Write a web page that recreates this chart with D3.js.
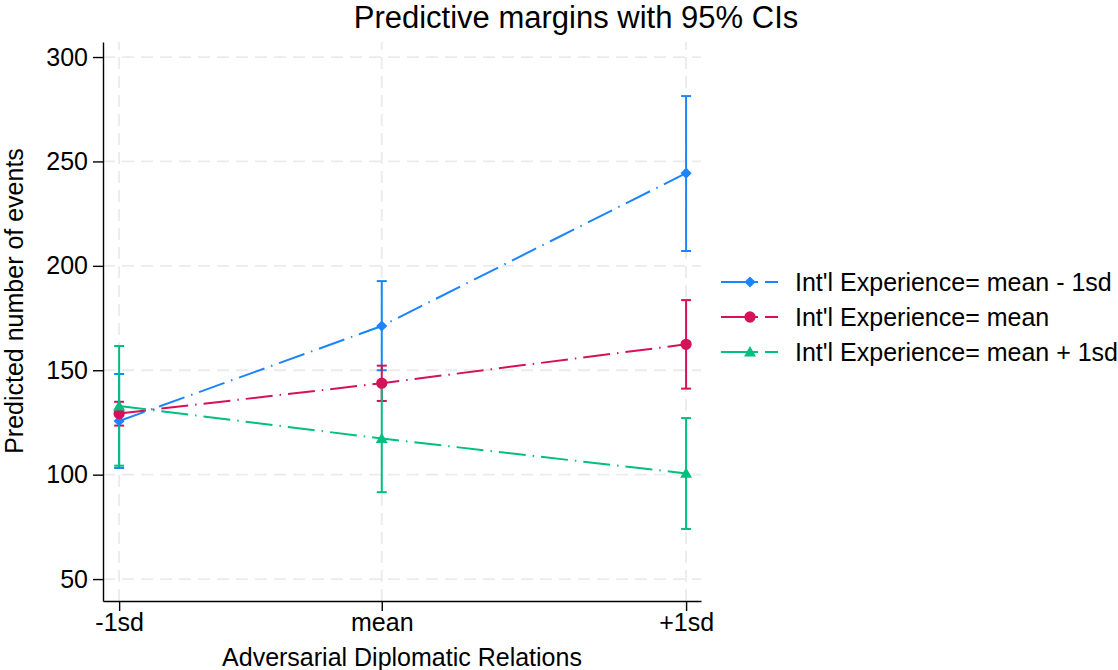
<!DOCTYPE html>
<html>
<head>
<meta charset="utf-8">
<script src="https://cdn.jsdelivr.net/npm/d3@7"></script>
<style>
  body { margin: 0; background: #fff; }
  svg { display: block; font-family: "Liberation Sans", Arial, Helvetica, sans-serif; }
</style>
</head>
<body>
<div id="chart"></div>
<script>
// x positions of the three evaluation points (-1sd is truncated at 0)
const xValues = [0, 0.863, 1.863];
const xLabels = ["-1sd", "mean", "+1sd"];
const yTicks = [50, 100, 150, 200, 250, 300];

const seriesNames = [
  "Int'l Experience= mean - 1sd",
  "Int'l Experience= mean",
  "Int'l Experience= mean + 1sd"
];

// predicted margins and 95% CI bounds, one array per series
const lowExpMargin = [125.7, 171.2, 244.4];
const lowExpLower = [103.2, 150.0, 207.1];
const lowExpUpper = [148.2, 192.7, 281.3];

const meanExpMargin = [129.3, 143.8, 162.4];
const meanExpLower = [123.5, 135.3, 141.2];
const meanExpUpper = [134.9, 152.2, 183.6];

const highExpMargin = [132.9, 117.3, 100.6];
const highExpLower = [104.3, 91.6, 74.0];
const highExpUpper = [161.6, 143.0, 127.1];

const W = 1118, H = 670;
const colors = ["#1a85ff", "#d41159", "#00bf7f"];

const series = [
  { name: seriesNames[0], m: lowExpMargin, lo: lowExpLower, hi: lowExpUpper, symbol: "diamond" },
  { name: seriesNames[1], m: meanExpMargin, lo: meanExpLower, hi: meanExpUpper, symbol: "circle" },
  { name: seriesNames[2], m: highExpMargin, lo: highExpLower, hi: highExpUpper, symbol: "triangle" }
];

const svg = d3.select("#chart").append("svg")
  .attr("width", W).attr("height", H);

const x = d3.scaleLinear().domain([-0.053, 1.912]).range([103, 701]);
const y = d3.scaleLinear().domain([39.5, 307.2]).range([601, 42]);

// grid
const grid = svg.append("g").attr("stroke", "#ebebeb").attr("stroke-width", 1.8)
  .attr("stroke-dasharray", "12 7");
grid.selectAll(".hg").data(yTicks).join("line")
  .attr("x1", x.range()[0]).attr("x2", x.range()[1])
  .attr("y1", d => y(d)).attr("y2", d => y(d));
grid.selectAll(".vg").data(xValues).join("line")
  .attr("x1", d => x(d)).attr("x2", d => x(d))
  .attr("y1", y.range()[0]).attr("y2", y.range()[1]);

// axes
const yAxis = svg.append("g")
  .attr("transform", `translate(${x.range()[0]},0)`)
  .call(d3.axisLeft(y).tickValues(yTicks).tickSize(10).tickSizeOuter(0).tickPadding(5));
const xAxis = svg.append("g")
  .attr("transform", `translate(0,${y.range()[0]})`)
  .call(d3.axisBottom(x).tickValues(xValues).tickFormat((d, i) => xLabels[i])
    .tickSize(10).tickSizeOuter(0).tickPadding(2));
[yAxis, xAxis].forEach(a => {
  a.selectAll("path, line").attr("stroke", "#000").attr("stroke-width", 1.4);
  a.selectAll("text").attr("fill", "#000").style("font-size", "25px")
    .style("font-family", "'Liberation Sans', Arial, sans-serif");
});

// symbols
function symbolPath(kind) {
  if (kind === "circle") return d3.symbol(d3.symbolCircle, 100)();
  if (kind === "triangle") return d3.symbol(d3.symbolTriangle, 62)();
  return d3.symbol(d3.symbolSquare, 62)();
}
function symbolTransform(kind, px, py) {
  if (kind === "diamond") return `translate(${px},${py}) rotate(45)`;
  if (kind === "triangle") return `translate(${px},${py + 1})`;
  return `translate(${px},${py})`;
}

// confidence intervals
series.forEach((s, k) => {
  const g = svg.append("g").attr("stroke", colors[k]).attr("stroke-width", 2);
  xValues.forEach((xv, i) => {
    g.append("line").attr("x1", x(xv)).attr("x2", x(xv))
      .attr("y1", y(s.lo[i])).attr("y2", y(s.hi[i]));
    [s.lo[i], s.hi[i]].forEach(v => {
      g.append("line").attr("x1", x(xv) - 5).attr("x2", x(xv) + 5)
        .attr("y1", y(v)).attr("y2", y(v));
    });
  });
});

// connected lines with markers
const line = d3.line().x((d, i) => x(xValues[i])).y(d => y(d));
series.forEach((s, k) => {
  svg.append("path").datum(s.m)
    .attr("d", line)
    .attr("fill", "none")
    .attr("stroke", colors[k])
    .attr("stroke-width", 2)
    .attr("stroke-dasharray", "27 7 1.5 7");
  svg.append("g").selectAll("path").data(s.m).join("path")
    .attr("d", symbolPath(s.symbol))
    .attr("transform", (d, i) => symbolTransform(s.symbol, x(xValues[i]), y(d)))
    .attr("fill", colors[k]);
});

// legend
const legend = svg.append("g").attr("transform", "translate(721,282)");
series.forEach((s, k) => {
  const item = legend.append("g").attr("transform", `translate(0,${k * 35})`);
  item.append("line").attr("x1", 0).attr("x2", 57).attr("y1", 0).attr("y2", 0)
    .attr("stroke", colors[k]).attr("stroke-width", 2)
    .attr("stroke-dasharray", "37 7");
  item.append("path").attr("d", symbolPath(s.symbol))
    .attr("transform", symbolTransform(s.symbol, 29, 0))
    .attr("fill", colors[k]);
  item.append("text").attr("x", 74).attr("y", 0).attr("dy", "0.35em")
    .style("font-size", "25px").attr("fill", "#000").text(s.name);
});

// titles
svg.append("text").attr("x", 576).attr("y", 28).attr("text-anchor", "middle")
  .style("font-size", "31px").attr("fill", "#000").text("Predictive margins with 95% CIs");
svg.append("text").attr("x", 402).attr("y", 666).attr("text-anchor", "middle")
  .style("font-size", "25px").attr("fill", "#000").text("Adversarial Diplomatic Relations");
svg.append("text").attr("transform", "translate(23,301) rotate(-90)")
  .attr("text-anchor", "middle")
  .style("font-size", "25px").attr("fill", "#000").text("Predicted number of events");
</script>
</body>
</html>
